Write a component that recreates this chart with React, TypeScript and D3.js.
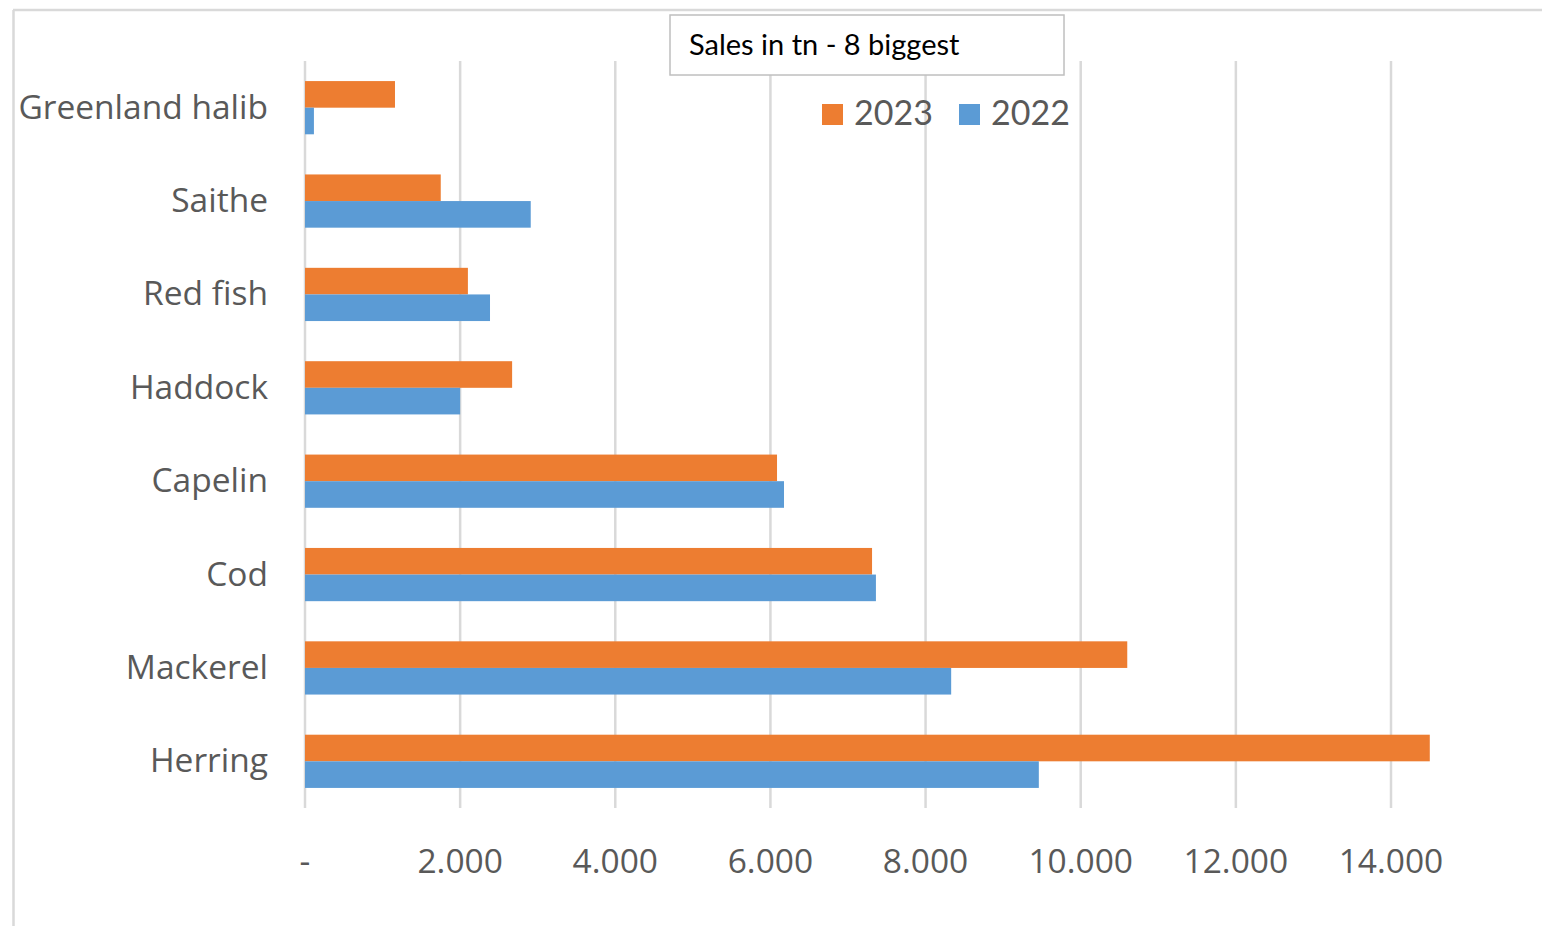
import React from "react";
import * as d3 from "d3";

const categories = ["Greenland halib", "Saithe", "Red fish", "Haddock", "Capelin", "Cod", "Mackerel", "Herring"];
const series2023 = [1160, 1750, 2100, 2670, 6085, 7310, 10600, 14500];
const series2022 = [115, 2910, 2385, 2000, 6175, 7360, 8330, 9460];
const seriesNames = ["2023", "2022"];
const xTicks = [0, 2000, 4000, 6000, 8000, 10000, 12000, 14000];
const title = "Sales in tn - 8 biggest";

const COLORS: Record<string, string> = { "2023": "#ED7D31", "2022": "#5B9BD5" };
const FONT = "'Open Sans', Lato, sans-serif";
const TFONT = "Lato, 'Open Sans', sans-serif";

export default function App() {
  const W = 1542, H = 926;
  const x = d3.scaleLinear().domain([0, 14000]).range([305, 1391]);
  const y = d3.scaleBand<string>().domain(categories).range([61, 808]).paddingInner(0.43).paddingOuter(0.215);
  const inner = d3.scaleBand<string>().domain(seriesNames).range([0, y.bandwidth()]);
  const values: Record<string, number[]> = { "2023": series2023, "2022": series2022 };
  const fmt = (v: number) => (v === 0 ? "-" : d3.format(",")(v).replace(/,/g, "."));

  return (
    <svg width={W} height={H} style={{ position: "absolute", left: 0, top: 0, background: "#fff" }}>
      <rect x={0} y={0} width={W} height={H} fill="#fff" />
      {/* chart frame */}
      <line x1={13.5} y1={10} x2={13.5} y2={H} stroke="#d9d9d9" strokeWidth={2.5} />
      <line x1={13} y1={10} x2={W} y2={10} stroke="#d9d9d9" strokeWidth={2.5} />
      {/* gridlines */}
      {xTicks.map((t) => (
        <line key={t} x1={x(t)} x2={x(t)} y1={61} y2={808} stroke="#d9d9d9" strokeWidth={2.5} />
      ))}
      {/* bars */}
      {categories.map((c, i) => (
        <g key={c} transform={`translate(0,${y(c)})`}>
          {seriesNames.map((s) => (
            <rect key={s} x={x(0)} y={inner(s)} width={x(values[s][i]) - x(0)} height={inner.bandwidth()} fill={COLORS[s]} />
          ))}
        </g>
      ))}
      {/* category labels */}
      {categories.map((c) => (
        <text key={c} x={268} y={(y(c) as number) + y.bandwidth() / 2} dy="0.33em" textAnchor="end"
          fontFamily={FONT} fontSize={33.5} fill="#595959">{c}</text>
      ))}
      {/* x tick labels */}
      {xTicks.map((t) => (
        <text key={t} x={x(t)} y={873} textAnchor="middle" fontFamily={FONT} fontSize={33.5} fill="#595959">{fmt(t)}</text>
      ))}
      {/* title box */}
      <rect x={670} y={15} width={394} height={60} fill="#fff" stroke="#bfbfbf" strokeWidth={1.5} />
      <text x={689} y={55} fontFamily={TFONT} fontSize={29} fill="#000">{title}</text>
      {/* legend */}
      {seriesNames.map((s, i) => {
        const lx = 822 + i * 137;
        return (
          <g key={s}>
            <rect x={lx} y={104} width={21} height={21} fill={COLORS[s]} />
            <text x={lx + 32} y={125} fontFamily={TFONT} fontSize={34} fill="#595959">{s}</text>
          </g>
        );
      })}
    </svg>
  );
}
